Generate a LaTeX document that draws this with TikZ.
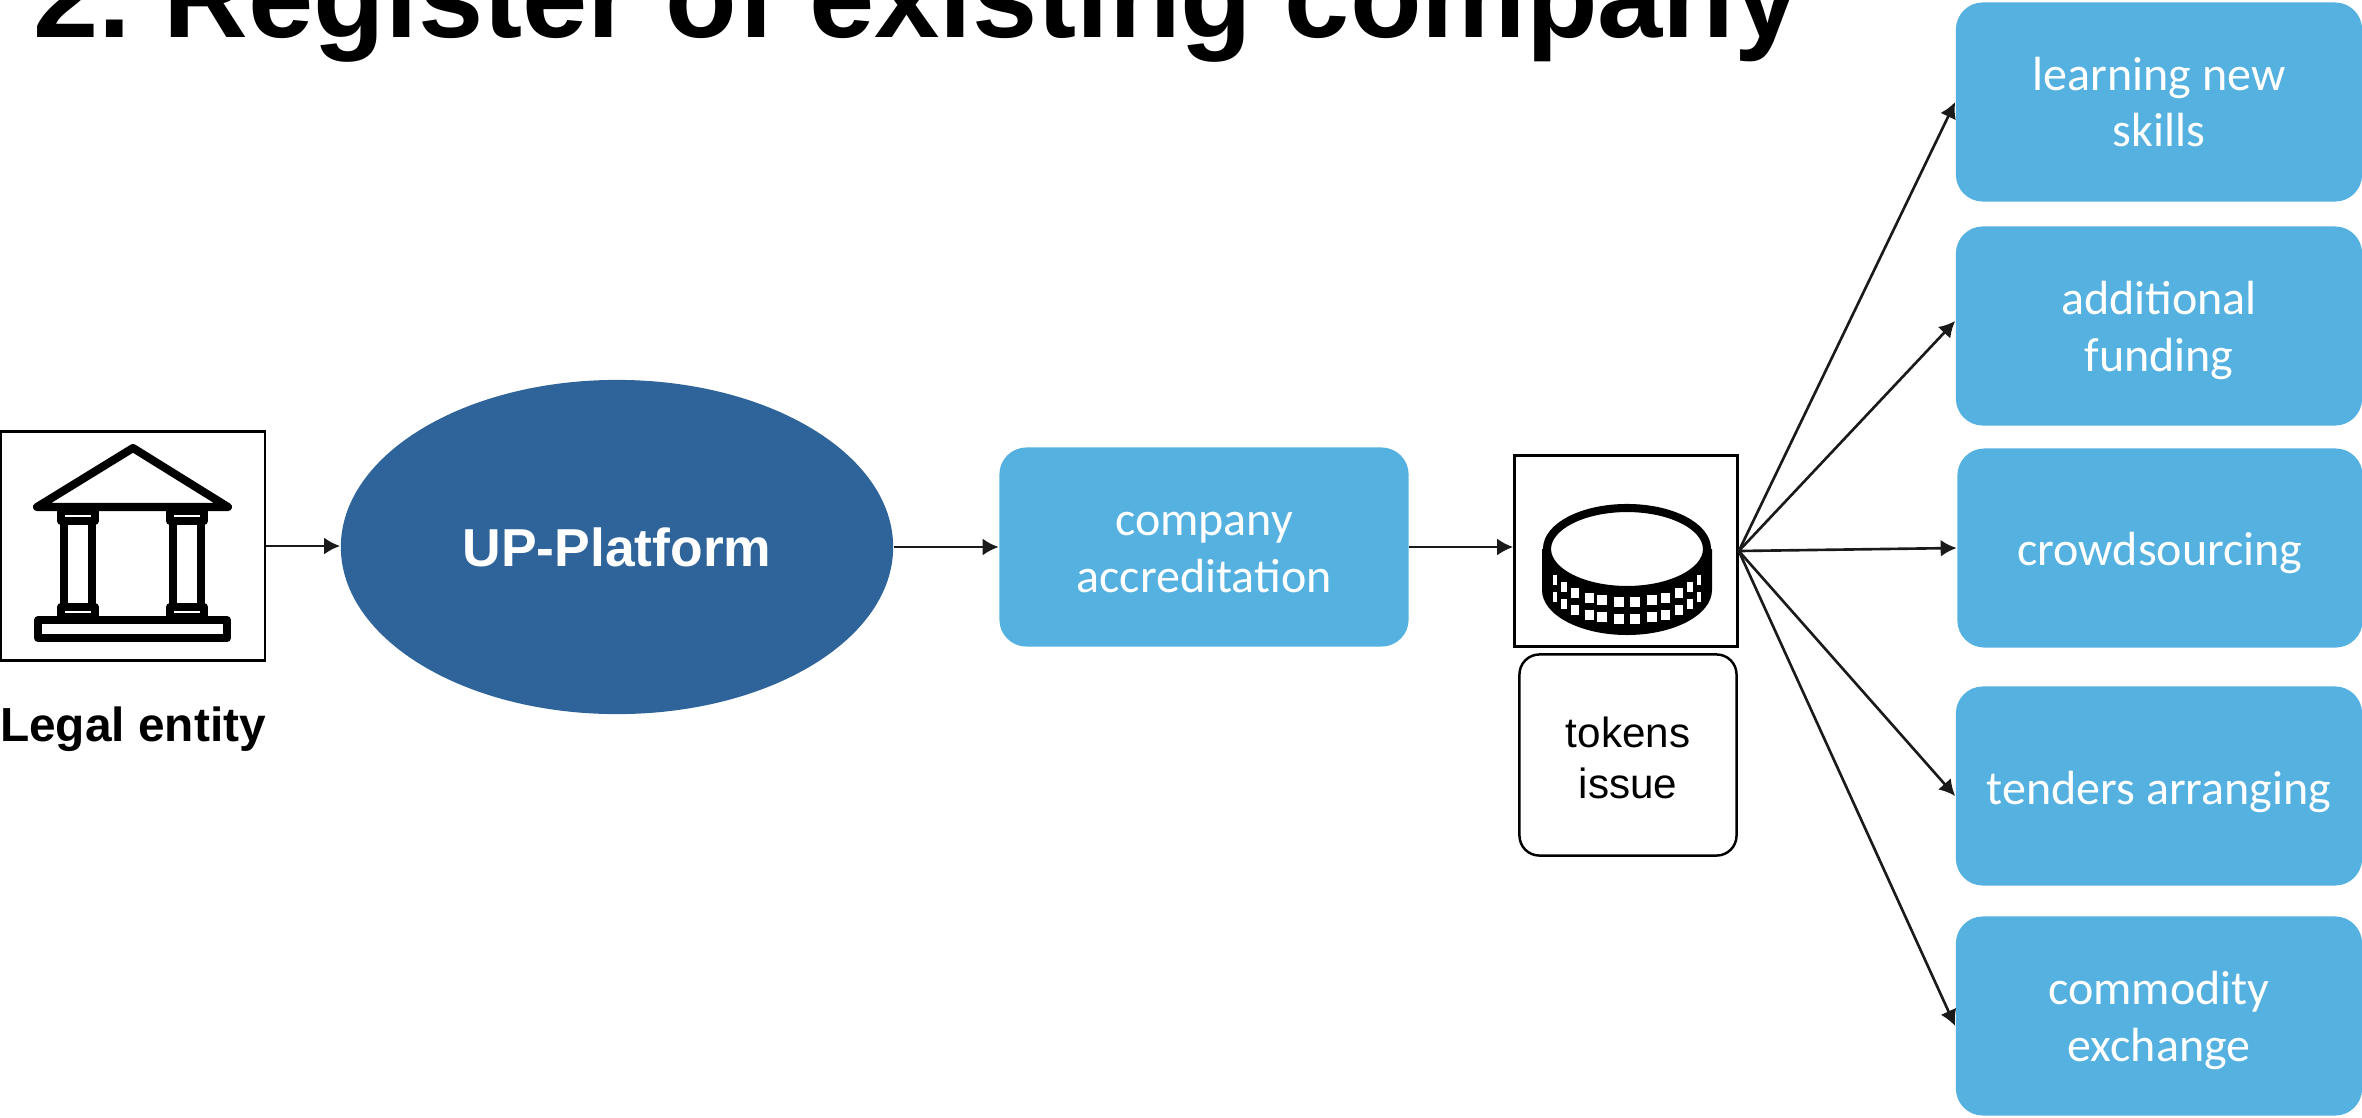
\documentclass[tikz,border=0pt]{standalone}
\usepackage{fontspec}
\setmainfont{Liberation Sans}
\newfontfamily\boxfont{Carlito}
\usetikzlibrary{arrows.meta,shapes.geometric}
\definecolor{skyblue}{HTML}{55B1E0}
\definecolor{deepblue}{HTML}{2E6499}
\definecolor{linegray}{HTML}{1A1A1A}
\newcommand{\dropline}[2]{\raisebox{#1}[\height][\depth]{#2}}
\tikzset{
  framebox/.style={draw=black,line width=0.7pt,minimum width=#1},
  bluebox/.style={fill=skyblue,text=white,rounded corners=0.27cm,inner sep=0,align=center,
    minimum width=4.06cm,minimum height=1.99cm,
    font=\boxfont\fontsize{13.65}{16.2}\selectfont},
  link/.style={draw=linegray,line width=0.75pt,-{Latex[length=0.16cm,width=0.17cm]}},
  icon/.style={line width=2.3pt,line join=round,line cap=round}
}
\begin{document}
\begin{tikzpicture}[x=0.01cm,y=-0.01cm]
      \useasboundingbox (0,0) rectangle (2362,1117);
      \node[anchor=base west,inner sep=0,font=\frenchspacing\bfseries\fontsize{33.35}{40}\selectfont] (title) at (33,37) {2. Register of existing company};
      % left part
      \node[framebox=2.64cm,minimum height=2.29cm,inner sep=0] (legal) at (133,546) {};
      \node[anchor=base,inner sep=0,font=\bfseries\fontsize{13.6}{16}\selectfont] (legallabel) at (133,741) {Legal entity};
      \node[ellipse,fill=deepblue,text=white,minimum width=5.52cm,minimum height=3.34cm,inner sep=0,font=\bfseries\fontsize{15.2}{18}\selectfont] (platform) at (617,547) {UP-Platform};
      \node[bluebox,minimum width=4.09cm] (accred) at (1204,547) {\dropline{-1.7pt}{company}\\\dropline{-1.7pt}{accreditation}};
      % tokens
      \node[framebox=2.23cm,minimum height=1.91cm,inner sep=0] (coin) at (1626,551) {};
      \node[draw=black,line width=0.7pt,rounded corners=0.2cm,minimum width=2.17cm,minimum height=2.01cm,inner sep=0,align=center,font=\fontsize{12}{14.7}\selectfont] (tokens) at (1628,755) {\dropline{-0.8pt}{tokens}\\\dropline{-0.8pt}{issue}};
      % right column
      \node[bluebox] (skills)  at (2159,102) {learning new\\skills};
      \node[bluebox] (funding) at (2159,326) {\dropline{-1.25pt}{additional}\\\dropline{-1.25pt}{funding}};
      \node[bluebox,minimum width=4.05cm] (crowd) at (2160,548) {\dropline{-1.3pt}{crowdsourcing}};
      \node[bluebox] (tenders) at (2159,786) {\dropline{-1.7pt}{tenders arranging}};
      \node[bluebox] (exchange) at (2159,1016) {\dropline{-1.25pt}{commodity}\\\dropline{-1.25pt}{exchange}};
      % arrows
      \draw[link] (legal.east) -- (legal.east -| platform.west);
      \draw[link] (platform.east) -- (accred.west);
      \draw[link] (accred.east) -- (accred.east -| coin.west);
      \draw[link] (coin.east) -- (skills.west);
      \draw[link] (coin.east) -- ([yshift=0.05cm]funding.west);
      \draw[link] (coin.east) -- (crowd.west);
      \draw[link] (coin.east) -- ([yshift=-0.1cm]tenders.west);
      \draw[link] (coin.east) -- ([yshift=-0.1cm]exchange.west);
      % temple
      \draw[icon] (133,448) -- (37,507) -- (228,507) -- cycle;
      \foreach \cx in {78,187} {
        \draw[icon] (\cx-17,511) rectangle (\cx+17,521);
        \draw[icon] (\cx-14,521) rectangle (\cx+14,607);
        \draw[icon] (\cx-17,607) rectangle (\cx+17,617);
      }
      \draw[icon] (38,620) rectangle (227,638);
      % coin
      \fill (1542,549) -- (1542,590) arc[start angle=180,end angle=0,x radius=85,y radius=45] -- (1712,549) -- cycle;
      \draw[icon,fill=white] (1627,549) ellipse[x radius=80,y radius=41];
      \foreach \dx/\sw in {8/10,25/10,38/9,52/7.5,63/5.5,72/3.5} {
        \foreach \sgn in {-1,1} {
          \foreach \rowy in {16,33} {
            \pgfmathsetmacro{\sx}{1627+\sgn*\dx}
            \pgfmathsetmacro{\sy}{547+\rowy+39.3*sqrt(1-(\dx/80)^2)}
            \fill[white] (\sx-\sw/2,\sy-5) rectangle (\sx+\sw/2,\sy+5);
          }
        }
      }
     \end{tikzpicture}
\end{document}
